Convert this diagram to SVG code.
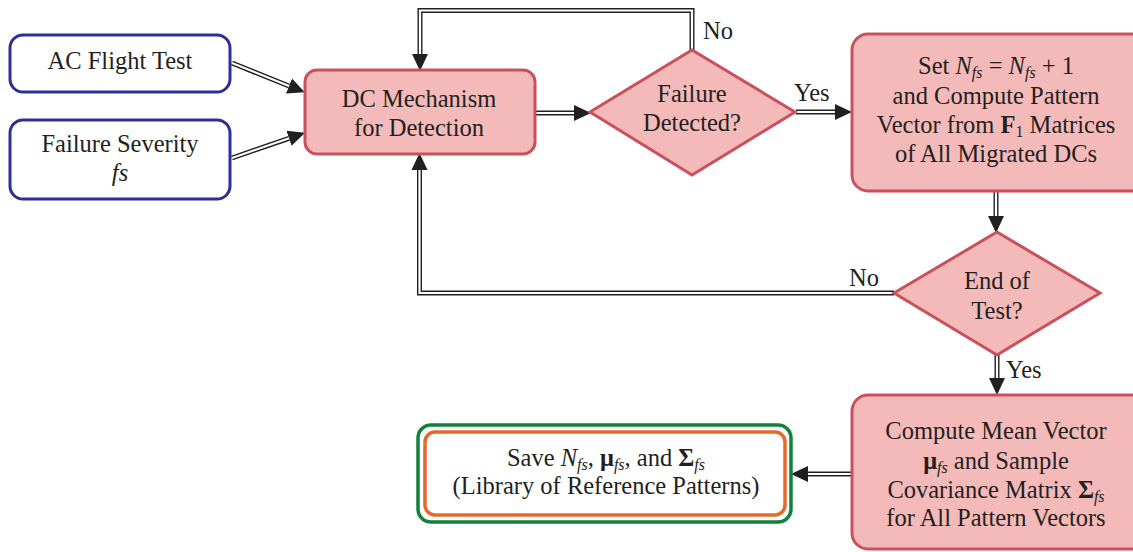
<svg xmlns="http://www.w3.org/2000/svg" xmlns:xlink="http://www.w3.org/1999/xlink" width="1133" height="552" viewBox="0 0 1133 552" font-family="'Liberation Serif', 'Times New Roman', serif">
<defs>
<style>
text{font-family:'Liberation Serif','Times New Roman',serif;font-size:24.5px;fill:#231f20;text-anchor:middle}
.lbl{text-anchor:start}
.in{fill:#ffffff;stroke:#2e2e96;stroke-width:3}
.proc{fill:#f4b9b9;stroke:#c9515c;stroke-width:3}
.out1{fill:#ffffff;stroke:#13813d;stroke-width:3.5}
.out2{fill:#ffffff;stroke:#e56a2a;stroke-width:3.5}
.dlo{fill:none;stroke:#231f20;stroke-width:5;stroke-linejoin:miter}
.dli{fill:none;stroke:#ffffff;stroke-width:2.2;stroke-linejoin:miter}
.i{font-style:italic}
.b{font-weight:bold}
.s{font-size:16px}
</style>
<marker id="ah" markerUnits="userSpaceOnUse" markerWidth="20" markerHeight="18" refX="0" refY="8" orient="auto" viewBox="0 0 20 16">
<path d="M0,0 L17,8 L0,16 Z" fill="#231f20"/>
</marker>
<path id="c1" d="M232,63 L289,86"/>
<path id="c2" d="M232,158 L289,138.3"/>
<path id="c3" d="M535,113 L574,113"/>
<path id="c4" d="M796,112 L835,112"/>
<path id="c5" d="M692,50 L692,10.5 L420,10.5 L420,54"/>
<path id="c6" d="M996,192 L996,216"/>
<path id="c7" d="M894,293 L419.5,293 L419.5,170"/>
<path id="c8" d="M997,355 L997,378"/>
<path id="c9" d="M851,474 L808,474"/>
</defs>

<g id="connectors">
<use xlink:href="#c1" class="dlo" marker-end="url(#ah)"/><use xlink:href="#c1" class="dli"/>
<use xlink:href="#c2" class="dlo" marker-end="url(#ah)"/><use xlink:href="#c2" class="dli"/>
<use xlink:href="#c3" class="dlo" marker-end="url(#ah)"/><use xlink:href="#c3" class="dli"/>
<use xlink:href="#c4" class="dlo" marker-end="url(#ah)"/><use xlink:href="#c4" class="dli"/>
<use xlink:href="#c5" class="dlo" marker-end="url(#ah)"/><use xlink:href="#c5" class="dli"/>
<use xlink:href="#c6" class="dlo" marker-end="url(#ah)"/><use xlink:href="#c6" class="dli"/>
<use xlink:href="#c7" class="dlo" marker-end="url(#ah)"/><use xlink:href="#c7" class="dli"/>
<use xlink:href="#c8" class="dlo" marker-end="url(#ah)"/><use xlink:href="#c8" class="dli"/>
<use xlink:href="#c9" class="dlo" marker-end="url(#ah)"/><use xlink:href="#c9" class="dli"/>
<text class="lbl" x="703" y="39">No</text>
<text class="lbl" x="794" y="101">Yes</text>
<text class="lbl" x="849" y="286">No</text>
<text class="lbl" x="1006" y="378">Yes</text>
</g>

<g id="ac-flight-test">
<rect class="in" x="10" y="35" width="220" height="57" rx="13"/>
<text x="120" y="69">AC Flight Test</text>
</g>

<g id="failure-severity">
<rect class="in" x="10" y="120" width="220" height="79" rx="13"/>
<text x="120" y="152">Failure Severity</text>
<text x="120" y="181" class="i">fs</text>
</g>

<g id="dc-mechanism">
<rect class="proc" x="305" y="70" width="230" height="84" rx="12"/>
<text x="419" y="107">DC Mechanism</text>
<text x="419" y="136">for Detection</text>
</g>

<g id="failure-detected">
<polygon class="proc" points="590,112 692,50 795,112 692,175"/>
<text x="692" y="102">Failure</text>
<text x="692" y="131">Detected?</text>
</g>

<g id="set-nfs">
<rect class="proc" x="852" y="34" width="295" height="157" rx="16"/>
<text x="996" y="74">Set <tspan class="i">N</tspan><tspan class="i s" dy="4">fs</tspan><tspan dy="-4"> = </tspan><tspan class="i">N</tspan><tspan class="i s" dy="4">fs</tspan><tspan dy="-4"> + 1</tspan></text>
<text x="996" y="104">and Compute Pattern</text>
<text x="996" y="133">Vector from <tspan class="b">F</tspan><tspan class="s" dy="4">1</tspan><tspan dy="-4"> Matrices</tspan></text>
<text x="996" y="162">of All Migrated DCs</text>
</g>

<g id="end-of-test">
<polygon class="proc" points="894,293 997,232 1100,293 997,355"/>
<text x="997" y="289">End of</text>
<text x="997" y="319">Test?</text>
</g>

<g id="compute-mean">
<rect class="proc" x="852" y="395" width="295" height="154" rx="16"/>
<text x="996" y="439">Compute Mean Vector</text>
<text x="996" y="469"><tspan class="b">μ</tspan><tspan class="i s" dy="4">fs</tspan><tspan dy="-4"> and Sample</tspan></text>
<text x="996" y="498">Covariance Matrix <tspan class="b">Σ</tspan><tspan class="i s" dy="4">fs</tspan></text>
<text x="996" y="526">for All Pattern Vectors</text>
</g>

<g id="save-library">
<rect class="out1" x="418" y="425" width="373" height="97" rx="13"/>
<rect class="out2" x="425" y="432" width="360" height="83" rx="10"/>
<text x="606" y="466">Save <tspan class="i">N</tspan><tspan class="i s" dy="4">fs</tspan><tspan dy="-4">, </tspan><tspan class="b">μ</tspan><tspan class="i s" dy="4">fs</tspan><tspan dy="-4">, and </tspan><tspan class="b">Σ</tspan><tspan class="i s" dy="4">fs</tspan></text>
<text x="606" y="494">(Library of Reference Patterns)</text>
</g>
</svg>
